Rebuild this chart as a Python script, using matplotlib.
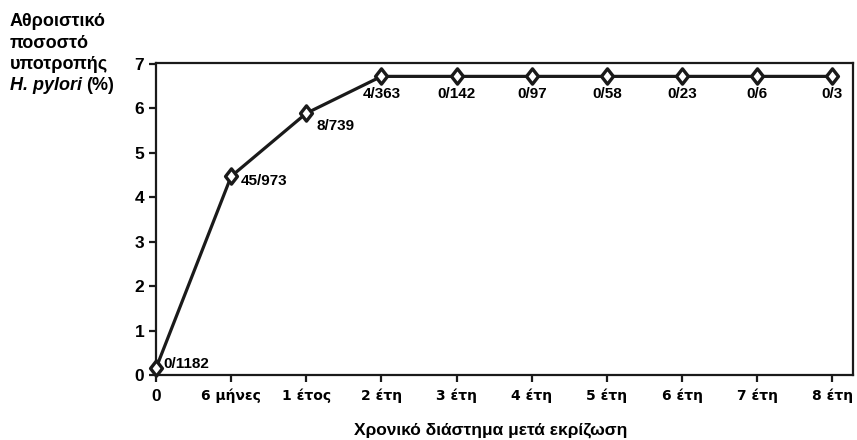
import matplotlib
matplotlib.use("Agg")
import matplotlib.pyplot as plt
from matplotlib.path import Path

# δεδομένα
periods = ["0", "6 μήνες", "1 έτος", "2 έτη", "3 έτη", "4 έτη", "5 έτη", "6 έτη", "7 έτη", "8 έτη"]
relapse = [0.15, 4.47, 5.89, 6.72, 6.72, 6.72, 6.72, 6.72, 6.72, 6.72]
counts = ["0/1182", "45/973", "8/739", "4/363", "0/142", "0/97", "0/58", "0/23", "0/6", "0/3"]

plt.rcParams['font.family'] = ['Liberation Sans', 'DejaVu Sans']
plt.rcParams['font.weight'] = 'bold'
plt.rcParams['axes.labelweight'] = 'bold'

fig = plt.figure(figsize=(8.57, 4.4), dpi=100)
ax = fig.add_axes([0.182, 0.1477, 0.813, 0.709])

# ρόμβος λίγο ψηλότερος από φαρδύς
diamond = Path([(0, 1), (0.78, 0), (0, -1), (-0.78, 0), (0, 1)],
               [Path.MOVETO, Path.LINETO, Path.LINETO, Path.LINETO, Path.CLOSEPOLY])

xs = list(range(len(periods)))
ax.plot(xs, relapse, color="#1a1a1a", lw=2.3, marker=diamond, ms=11,
        mfc="white", mec="#1a1a1a", mew=2.4, clip_on=False, zorder=3)

# ετικέτες σημείων
for i, (x, y, c) in enumerate(zip(xs, relapse, counts)):
    if i == 0:
        ax.annotate(c, (x, y), xytext=(5, 3), textcoords="offset points",
                    ha="left", va="center", fontsize=11)
    elif i == 1:
        ax.annotate(c, (x, y), xytext=(7, -3), textcoords="offset points",
                    ha="left", va="center", fontsize=11)
    elif i == 2:
        ax.annotate(c, (x, y), xytext=(7, -9), textcoords="offset points",
                    ha="left", va="center", fontsize=11)
    else:
        ax.annotate(c, (x, y), xytext=(0, -8), textcoords="offset points",
                    ha="center", va="top", fontsize=11)

ax.set_xlim(0, 9.27)
ax.set_ylim(0, 7.02)
ax.set_xticks(xs)
ax.set_xticklabels(periods, fontsize=10, family="DejaVu Sans")
ax.get_xticklabels()[0].set_fontsize(12.5)
ax.get_xticklabels()[0].set_family("Liberation Sans")
ax.set_yticks(range(8))
ax.set_yticklabels([str(v) for v in range(8)], fontsize=12.5)
ax.tick_params(axis="both", direction="out", length=5, width=1.6, color="#1a1a1a")
ax.tick_params(axis="x", pad=5)
for s in ax.spines.values():
    s.set_linewidth(1.6)
    s.set_color("#1a1a1a")

ax.set_xlabel("Χρονικό διάστημα μετά εκρίζωση", fontsize=12.5)
ax.xaxis.set_label_coords(0.48, -0.176)
ax.xaxis.label.set_va("center")

# τίτλος άξονα y πάνω αριστερά
ys = [1 - 21 / 440, 1 - 43 / 440, 1 - 64 / 440, 1 - 86 / 440]
fig.text(0.0117, ys[0], "Αθροιστικό", fontsize=13, va="center", ha="left")
fig.text(0.0117, ys[1], "ποσοστό", fontsize=13, va="center", ha="left")
fig.text(0.0117, ys[2], "υποτροπής", fontsize=13, va="center", ha="left")
t = fig.text(0.0117, ys[3], "H. pylori", fontsize=13, va="center", ha="left", style="italic")
fig.canvas.draw()
bb = t.get_window_extent()
fig.text(bb.x1 / fig.bbox.width + 0.005, ys[3], "(%)", fontsize=13, va="center", ha="left")

fig.savefig("out.png", dpi=100)
